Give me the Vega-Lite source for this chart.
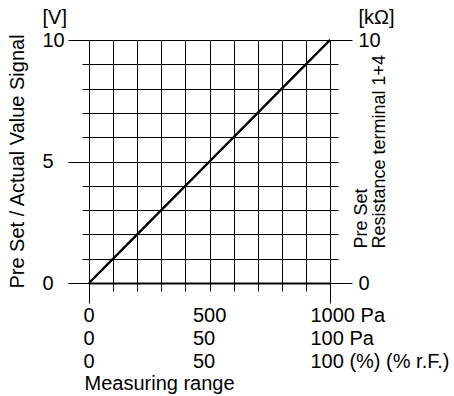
{
  "$schema": "https://vega.github.io/schema/vega-lite/v6.json",
  "width": 241,
  "height": 243,
  "autosize": {"type": "none"},
  "padding": {"left": 89, "top": 40, "right": 124, "bottom": 113},
  "background": "white",
  "config": {
    "font": "Liberation Sans",
    "view": {"stroke": null},
    "axis": {
      "labelFont": "Liberation Sans",
      "titleFont": "Liberation Sans",
      "labelColor": "black",
      "titleColor": "black",
      "tickColor": "black",
      "gridColor": "black",
      "gridOpacity": 1,
      "domainColor": "black",
      "labelFontSize": 20,
      "titleFontSize": 20,
      "titleFontWeight": "normal",
      "labelOverlap": false,
      "labelFlush": false,
      "labelBound": false
    }
  },
  "data": {"values": [
    {"range": 0, "signal": 0, "resistance": 0},
    {"range": 1000, "signal": 10, "resistance": 10}
  ]},
  "layer": [
    {
      "mark": {"type": "line", "color": "black", "strokeWidth": 2},
      "encoding": {
        "x": {
          "field": "range", "type": "quantitative",
          "scale": {"domain": [0, 1000], "nice": false, "zero": false},
          "axis": {
            "orient": "bottom",
            "values": [0, 100, 200, 300, 400, 500, 600, 700, 800, 900, 1000],
            "grid": true,
            "gridWidth": 1,
            "domainWidth": 2,
            "tickWidth": 1,
            "tickSize": {"condition": {"test": "datum.value == 0 || datum.value == 1000", "value": 20}, "value": 8},
            "labelExpr": "datum.value == 0 ? ['0', '0', '0'] : datum.value == 500 ? ['500', '50', '50'] : datum.value == 1000 ? ['1000 Pa', '100 Pa', '100 (%) (% r.F.)'] : ''",
            "labelAlign": "left",
            "labelBaseline": "top",
            "labelLineHeight": 23,
            "labelOffset": {"condition": [{"test": "datum.value == 0", "value": -6}, {"test": "datum.value == 500", "value": -17}], "value": -20},
            "labelPadding": {"condition": {"test": "datum.value == 500", "value": 14}, "value": 2},
            "title": "Measuring range",
            "titleAnchor": "start",
            "titleAlign": "left",
            "titleBaseline": "middle",
            "titleX": -5,
            "titleY": 100
          }
        },
        "y": {
          "field": "signal", "type": "quantitative",
          "scale": {"domain": [0, 10], "nice": false, "zero": false},
          "axis": {
            "orient": "left",
            "values": [0, 1, 2, 3, 4, 5, 6, 7, 8, 9, 10],
            "grid": true,
            "gridWidth": 1,
            "domain": false,
            "tickWidth": 1,
            "tickSize": {"condition": {"test": "datum.value % 5 == 0", "value": 21}, "value": 7},
            "labelExpr": "datum.value == 10 ? ['[V]', '10'] : datum.value % 5 == 0 ? datum.label : ''",
            "labelAlign": "left",
            "labelBaseline": "middle",
            "labelLineHeight": 23,
            "labelOffset": {"condition": {"test": "datum.value == 10", "value": -23}, "value": 0},
            "labelPadding": 26,
            "title": "Pre Set / Actual Value Signal",
            "titleAngle": 270,
            "titleAlign": "center",
            "titleBaseline": "middle",
            "titleX": -72,
            "titleY": 121
          }
        }
      }
    },
    {
      "mark": {"type": "line", "color": "black", "strokeWidth": 2},
      "encoding": {
        "x": {"field": "range", "type": "quantitative", "scale": {"domain": [0, 1000], "nice": false, "zero": false}, "axis": null},
        "y": {
          "field": "resistance", "type": "quantitative",
          "scale": {"domain": [0, 10], "nice": false, "zero": false},
          "axis": {
            "orient": "right",
            "values": [0, 1, 2, 3, 4, 5, 6, 7, 8, 9, 10],
            "grid": false,
            "domain": false,
            "tickWidth": 1,
            "tickSize": {"condition": {"test": "datum.value == 0 || datum.value == 10", "value": 22}, "value": 8},
            "labelExpr": "datum.value == 10 ? ['[kΩ]', '10'] : datum.value == 0 ? '0' : ''",
            "labelAlign": "left",
            "labelBaseline": "middle",
            "labelLineHeight": 23,
            "labelOffset": {"condition": {"test": "datum.value == 10", "value": -23}, "value": 0},
            "labelPadding": 6,
            "title": ["Pre Set", "Resistance terminal 1+4"],
            "titleFontSize": 18,
            "titleAngle": 270,
            "titleAlign": "left",
            "titleBaseline": "top",
            "titleLineHeight": 18,
            "titleX": 22,
            "titleY": 208
          }
        }
      }
    }
  ],
  "resolve": {"scale": {"y": "independent"}, "axis": {"x": "independent"}}
}
